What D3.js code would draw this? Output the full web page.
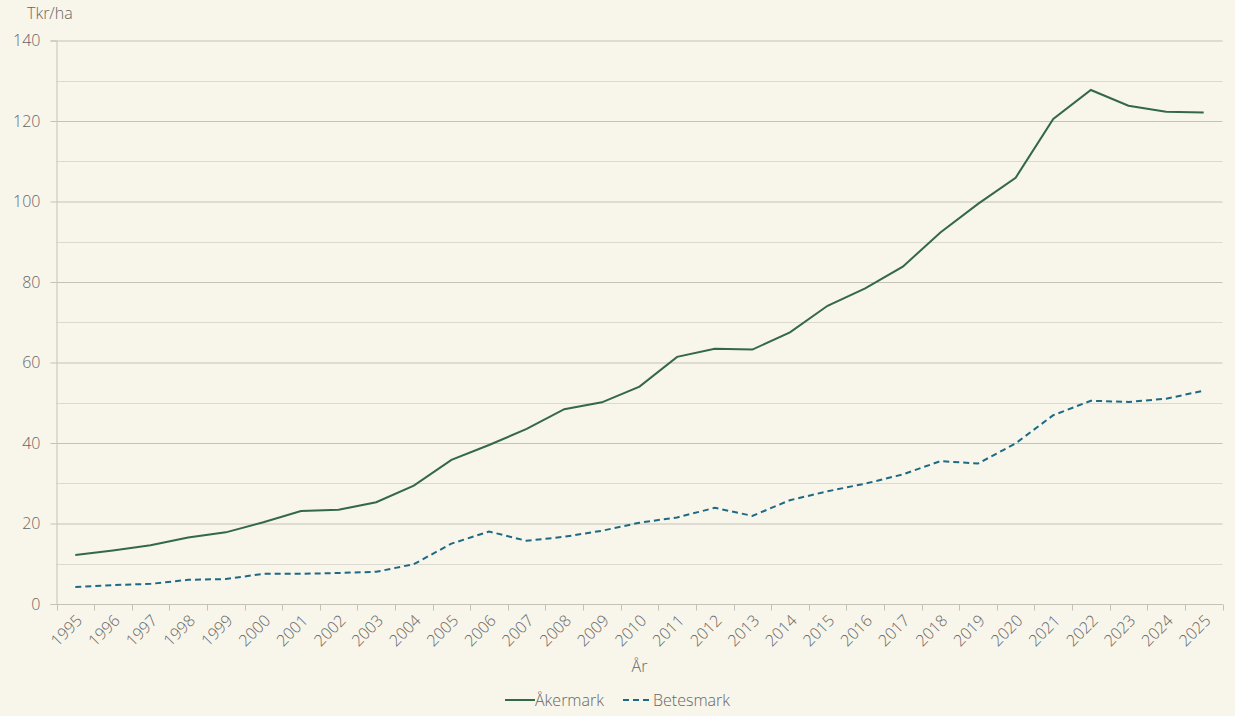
<!DOCTYPE html>
<html>
<head>
<meta charset="utf-8">
<script src="https://cdn.jsdelivr.net/npm/d3@7"></script>
<style>
  html, body { margin: 0; padding: 0; background: #f8f5ea; }
  svg { display: block; font-family: "Open Sans", sans-serif; font-weight: 300; }
  text { fill: #666; }
</style>
</head>
<body>
<div id="chart"></div>
<script>
// years on the x axis
var years = ["1995","1996","1997","1998","1999","2000","2001","2002","2003","2004",
    "2005","2006","2007","2008","2009","2010","2011","2012","2013","2014",
    "2015","2016","2017","2018","2019","2020","2021","2022","2023","2024","2025"];

// Tkr/ha
var akermark = [12.2, 13.3, 14.6, 16.5, 17.8, 20.3, 23.1, 23.4, 25.3, 29.4,
    35.8, 39.5, 43.5, 48.4, 50.1, 54.0, 61.4, 63.4, 63.2, 67.5,
    74.1, 78.4, 83.8, 92.3, 99.4, 105.9, 120.5, 127.7, 123.8, 122.3, 122.1];
var betesmark = [4.2, 4.7, 5.0, 6.0, 6.2, 7.5, 7.5, 7.7, 8.0, 9.9,
    15.0, 18.0, 15.7, 16.7, 18.2, 20.2, 21.5, 23.9, 21.9, 25.8,
    28.0, 29.9, 32.2, 35.5, 34.9, 39.9, 46.9, 50.5, 50.2, 51.0, 53.0];

var yTicks = [0, 20, 40, 60, 80, 100, 120, 140];
var yGrid = [10, 30, 50, 70, 90, 110, 130];

var series = [
    { name: "Åkermark", values: akermark, color: "#336848", dash: null },
    { name: "Betesmark", values: betesmark, color: "#1d6a85", dash: "6,4" }
];

var width = 1235, height = 716;
var plotLeft = 56.5, plotRight = 1222.5, plotTop = 40.5, plotBottom = 604;

var svg = d3.select("#chart")
    .append("svg")
    .attr("width", width)
    .attr("height", height);

var x = d3.scaleBand().domain(years).range([plotLeft, plotRight]);
var y = d3.scaleLinear().domain([0, 140]).range([plotBottom, plotTop]);

// light grid lines at the odd tens
svg.selectAll(".minor")
    .data(yGrid)
    .enter().append("line")
    .attr("x1", plotLeft).attr("x2", plotRight)
    .attr("y1", function (d) { return Math.round(y(d)) + 0.5; })
    .attr("y2", function (d) { return Math.round(y(d)) + 0.5; })
    .style("stroke", "#dcd9cf");

// y axis with full-width grid
var yAxis = svg.append("g")
    .attr("transform", "translate(" + plotLeft + ",0)")
    .call(d3.axisLeft(y).tickValues(yTicks).tickSize(6).tickPadding(10));
yAxis.select(".domain").style("stroke", "#c4c1b8");
yAxis.selectAll(".tick line").style("stroke", "#c4c1b8");
yAxis.selectAll(".tick text").style("font-size", "16px").style("font-family", "Open Sans").style("font-weight", 300).style("fill", "#666");
yAxis.selectAll(".tick")
    .append("line")
    .attr("x1", 0).attr("x2", plotRight - plotLeft)
    .style("stroke", "#c4c1b8");

// x axis, ticks on the band edges
var xAxis = svg.append("g")
    .attr("transform", "translate(0," + (plotBottom + 0.5) + ")");
xAxis.append("line")
    .attr("x1", plotLeft).attr("x2", plotRight)
    .style("stroke", "#c4c1b8");
var edges = years.map(function (d) { return x(d); }).concat([plotRight]);
xAxis.selectAll(".xtick")
    .data(edges)
    .enter().append("line")
    .attr("x1", function (d) { return Math.round(d) + 0.5; })
    .attr("x2", function (d) { return Math.round(d) + 0.5; })
    .attr("y1", 0).attr("y2", 6)
    .style("stroke", "#c4c1b8");
xAxis.selectAll(".xlab")
    .data(years)
    .enter().append("text")
    .attr("text-anchor", "end")
    .attr("transform", function (d) {
        return "translate(" + (x(d) + x.bandwidth() / 2 + 8) + ",17) rotate(-45)";
    })
    .style("font-size", "16px")
    .text(function (d) { return d; });

// axis titles
svg.append("text")
    .attr("x", (plotLeft + plotRight) / 2).attr("y", 672)
    .attr("text-anchor", "middle")
    .style("font-size", "16px")
    .text("År");
svg.append("text")
    .attr("x", 27).attr("y", 19)
    .style("font-size", "16px")
    .text("Tkr/ha");

// lines
var line = d3.line()
    .x(function (d, i) { return x(years[i]) + x.bandwidth() / 2; })
    .y(function (d) { return y(d); });

svg.selectAll(".series")
    .data(series)
    .enter().append("path")
    .attr("d", function (d) { return line(d.values); })
    .style("fill", "none")
    .style("stroke", function (d) { return d.color; })
    .style("stroke-width", 2)
    .style("stroke-dasharray", function (d) { return d.dash; });

// legend
var legendX = [505, 623];
var legend = svg.selectAll(".legend")
    .data(series)
    .enter().append("g")
    .attr("transform", function (d, i) { return "translate(" + legendX[i] + ",700)"; });
legend.append("line")
    .attr("x1", 0).attr("x2", 30)
    .style("stroke", function (d) { return d.color; })
    .style("stroke-width", 2)
    .style("stroke-dasharray", function (d) { return d.dash; });
legend.append("text")
    .attr("x", 30).attr("y", 5.5)
    .style("font-size", "16px")
    .text(function (d) { return d.name; });
</script>
</body>
</html>
